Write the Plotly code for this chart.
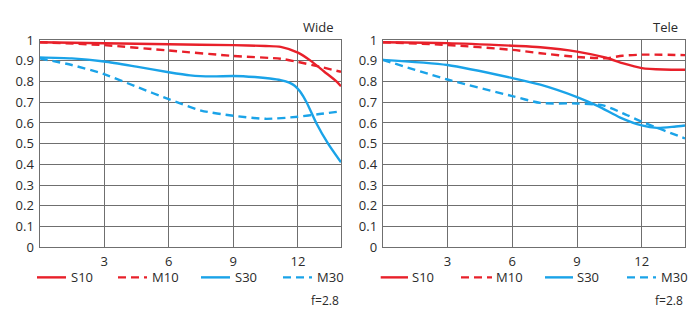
import plotly.graph_objects as go

# ---- data ----
wide_s10_x = [0, 3, 6, 9, 10.5, 11.2, 12, 12.6, 13.2, 13.8, 14]
wide_s10_y = [0.99, 0.985, 0.98, 0.976, 0.972, 0.968, 0.94, 0.90, 0.85, 0.80, 0.777]
wide_m10_x = [0, 3, 6, 9, 11.2, 12, 13, 14]
wide_m10_y = [0.99, 0.976, 0.95, 0.924, 0.91, 0.895, 0.872, 0.847]
wide_s30_x = [0, 1.5, 3, 4.5, 6, 7, 8, 9, 10, 10.7, 11.2, 11.6, 11.85, 12.1, 12.4, 12.85, 13.4, 14]
wide_s30_y = [0.917, 0.912, 0.897, 0.872, 0.845, 0.830, 0.825, 0.827, 0.822, 0.815, 0.807, 0.795, 0.78, 0.752, 0.70, 0.60, 0.50, 0.41]
wide_m30_x = [0, 1.5, 3, 4.5, 6, 7.5, 9, 10.5, 12, 13, 14]
wide_m30_y = [0.912, 0.88, 0.836, 0.775, 0.715, 0.66, 0.635, 0.62, 0.63, 0.643, 0.656]

tele_s10_x = [0, 3, 6, 7.3, 9, 10.35, 11.1, 12, 13, 14]
tele_s10_y = [0.99, 0.986, 0.973, 0.966, 0.945, 0.915, 0.889, 0.865, 0.858, 0.857]
tele_m10_x = [0, 3, 6, 7.3, 9, 10.35, 11.1, 12, 14]
tele_m10_y = [0.99, 0.977, 0.953, 0.937, 0.919, 0.913, 0.925, 0.93, 0.928]
tele_s30_x = [0, 3, 6, 7.3, 9, 10, 11, 12, 12.7, 13.5, 14]
tele_s30_y = [0.905, 0.88, 0.817, 0.785, 0.725, 0.68, 0.626, 0.588, 0.576, 0.582, 0.588]
tele_m30_x = [0, 3, 6, 7.3, 9, 10.2, 11.1, 12, 13, 14]
tele_m30_y = [0.905, 0.81, 0.73, 0.697, 0.694, 0.685, 0.648, 0.606, 0.565, 0.525]

series_names = ["S10", "M10", "S30", "M30"]
panel_titles = ["Wide", "Tele"]
aperture_label = "f=2.8"
x_ticks = [3, 6, 9, 12]
y_ticks = [0, 0.1, 0.2, 0.3, 0.4, 0.5, 0.6, 0.7, 0.8, 0.9, 1]
y_tick_labels = ["0", "0.1", "0.2", "0.3", "0.4", "0.5", "0.6", "0.7", "0.8", "0.9", "1"]

RED = "#e8202a"
BLUE = "#1aa3e8"
DASH = "8px,5px"
styles = {"S10": (RED, "solid"), "M10": (RED, DASH), "S30": (BLUE, "solid"), "M30": (BLUE, DASH)}

W, H = 700, 327
FONT = "Open Sans"
TXT = "#2a2a2a"
GRID = "#6f6f6f"

panels = [
    (wide_s10_x, wide_s10_y, wide_m10_x, wide_m10_y, wide_s30_x, wide_s30_y, wide_m30_x, wide_m30_y),
    (tele_s10_x, tele_s10_y, tele_m10_x, tele_m10_y, tele_s30_x, tele_s30_y, tele_m30_x, tele_m30_y),
]

fig = go.Figure()
for i, p in enumerate(panels):
    xa = "x" if i == 0 else "x2"
    ya = "y" if i == 0 else "y2"
    for k, name in enumerate(series_names):
        col, dash = styles[name]
        fig.add_trace(go.Scatter(
            x=p[2 * k], y=p[2 * k + 1], mode="lines", name=name,
            line=dict(color=col, width=2.4, dash=dash, shape="spline", smoothing=0.7),
            xaxis=xa, yaxis=ya, showlegend=False, hoverinfo="skip"))

# plot areas in pixels
px_left = [(39.5, 341.0), (382.7, 685.0)]
py_top, py_bot = 33.0, 252.0
ydom = [1 - py_bot / H, 1 - py_top / H]

axis_common = dict(showgrid=True, gridcolor=GRID, gridwidth=1, showline=True, linecolor=GRID,
                   linewidth=1, mirror=True, zeroline=False, ticks="",
                   tickfont=dict(family=FONT, size=13, color=TXT))
layout = dict(
    width=W, height=H, margin=dict(l=0, r=0, t=0, b=0),
    paper_bgcolor="white", plot_bgcolor="white", showlegend=False,
)
for i, (l, r) in enumerate(px_left):
    sfx = "" if i == 0 else "2"
    layout["xaxis" + sfx] = dict(axis_common, domain=[l / W, r / W], range=[0, 14],
                                 tickvals=x_ticks, anchor="y" + sfx, ticklabelstandoff=2)
    layout["yaxis" + sfx] = dict(axis_common, domain=ydom, range=[0, 1], tickvals=y_ticks,
                                 ticktext=y_tick_labels, anchor="x" + sfx, ticklabelstandoff=2)
fig.update_layout(**layout)

# titles, legend rows, aperture label
leg_y = 1 - 284 / H
legend_pos = [
    [(37, 66, 69), (118, 147, 150), (201, 230, 233), (283, 312, 315)],
    [(380.7, 408, 410), (461, 492, 494), (545, 573, 575), (627, 656, 659)],
]
for i, (l, r) in enumerate(px_left):
    fig.add_annotation(x=(r - 5) / W, y=1 - 19 / H, xref="paper", yref="paper", text=panel_titles[i],
                       showarrow=False, xanchor="right", yanchor="middle",
                       font=dict(family=FONT, size=13, color=TXT))
    fig.add_annotation(x=r / W, y=1 - 308 / H, xref="paper", yref="paper", text=aperture_label,
                       showarrow=False, xanchor="right", yanchor="middle",
                       font=dict(family=FONT, size=12, color=TXT))
    for k, name in enumerate(series_names):
        col, dash = styles[name]
        x0, x1, xt = legend_pos[i][k]
        fig.add_shape(type="line", xref="paper", yref="paper", x0=x0 / W, x1=x1 / W, y0=leg_y, y1=leg_y,
                      line=dict(color=col, width=2.4, dash=dash))
        fig.add_annotation(x=xt / W, y=leg_y, xref="paper", yref="paper", text=name, showarrow=False,
                           xanchor="left", yanchor="middle", font=dict(family=FONT, size=13, color=TXT))

fig.write_html("out.html")
